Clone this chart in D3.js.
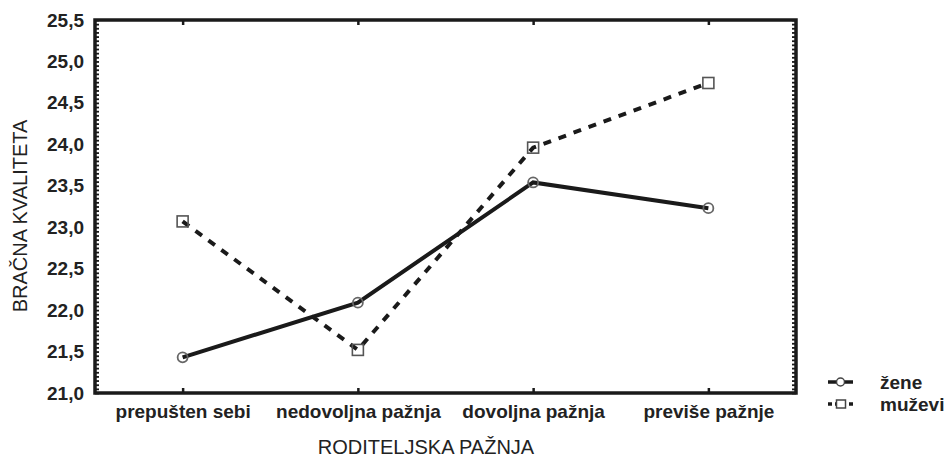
<!DOCTYPE html>
<html>
<head>
<meta charset="utf-8">
<script src="https://cdn.jsdelivr.net/npm/d3@7"></script>
<style>
  body { margin: 0; background: #fff; }
  text { font-family: "Liberation Sans", Arial, sans-serif; fill: #222; }
</style>
</head>
<body>
<script>
//Data
var categories = ["prepušten sebi", "nedovoljna pažnja", "dovoljna pažnja", "previše pažnje"];
var zene = [21.43, 22.09, 23.54, 23.23];
var muzevi = [23.07, 21.52, 23.96, 24.74];
var yTicks = [21.0, 21.5, 22.0, 22.5, 23.0, 23.5, 24.0, 24.5, 25.0, 25.5];
var seriesNames = ["žene", "muževi"];

//Width and height
var w = 951;
var h = 457;
var plotL = 95, plotR = 796, plotT = 20, plotB = 393;

var svg = d3.select("body")
            .append("svg")
            .attr("width", w)
            .attr("height", h);

//Scales
var x = d3.scalePoint()
            .domain(categories)
            .range([plotL, plotR])
            .padding(0.5);

var y = d3.scaleLinear()
            .domain([21, 25.5])
            .range([plotB, plotT]);

var fmt = function(d) { return d3.format(".1f")(d).replace(".", ","); };

//Minor ticks every 0.05 on left and right, pointing inward
var minor = d3.range(21, 25.5001, 0.05);

svg.append("g")
    .attr("transform", "translate(" + plotL + ",0)")
    .call(d3.axisRight(y).tickValues(minor).tickSize(4).tickFormat(""))
    .call(function(g) { g.select(".domain").remove(); })
    .selectAll("line").attr("stroke", "#1a1a1a").attr("stroke-width", 1.8);

svg.append("g")
    .attr("transform", "translate(" + plotR + ",0)")
    .call(d3.axisLeft(y).tickValues(minor).tickSize(4).tickFormat(""))
    .call(function(g) { g.select(".domain").remove(); })
    .selectAll("line").attr("stroke", "#1a1a1a").attr("stroke-width", 1.8);

//Category ticks on top and bottom, inward
svg.append("g")
    .attr("transform", "translate(0," + plotB + ")")
    .call(d3.axisTop(x).tickSize(5).tickFormat(""))
    .call(function(g) { g.select(".domain").remove(); })
    .selectAll("line").attr("stroke", "#1a1a1a").attr("stroke-width", 2.5);

svg.append("g")
    .attr("transform", "translate(0," + plotT + ")")
    .call(d3.axisBottom(x).tickSize(5).tickFormat(""))
    .call(function(g) { g.select(".domain").remove(); })
    .selectAll("line").attr("stroke", "#1a1a1a").attr("stroke-width", 2.5);

//Y tick labels
svg.append("g")
    .attr("transform", "translate(" + plotL + ",0)")
    .call(d3.axisLeft(y).tickValues(yTicks).tickSize(0).tickPadding(11).tickFormat(fmt))
    .call(function(g) { g.select(".domain").remove(); })
    .selectAll("text")
    .attr("font-size", 19)
    .attr("font-weight", "bold")
    .style("font-family", "'Liberation Sans', Arial, sans-serif")
    .attr("fill", "#222");

//X tick labels
svg.append("g")
    .attr("transform", "translate(0," + plotB + ")")
    .call(d3.axisBottom(x).tickSize(0).tickPadding(12))
    .call(function(g) { g.select(".domain").remove(); })
    .selectAll("text")
    .attr("font-size", 19)
    .attr("font-weight", "bold")
    .style("font-family", "'Liberation Sans', Arial, sans-serif")
    .attr("fill", "#222");

//Frame
svg.append("rect")
    .attr("x", plotL)
    .attr("y", plotT)
    .attr("width", plotR - plotL)
    .attr("height", plotB - plotT)
    .attr("fill", "none")
    .attr("stroke", "#1a1a1a")
    .attr("stroke-width", 3.5);

//Axis titles
svg.append("text")
    .attr("x", 426)
    .attr("y", 454)
    .attr("text-anchor", "middle")
    .attr("font-size", 20)
    .text("RODITELJSKA PAŽNJA");

svg.append("text")
    .attr("transform", "translate(27,216) rotate(-90)")
    .attr("text-anchor", "middle")
    .attr("font-size", 20)
    .text("BRAČNA KVALITETA");

//Lines
var line = d3.line()
    .x(function(d, i) { return x(categories[i]); })
    .y(function(d) { return y(d); });

svg.append("path")
    .datum(muzevi)
    .attr("d", line)
    .attr("fill", "none")
    .attr("stroke", "#1a1a1a")
    .attr("stroke-width", 4)
    .attr("stroke-dasharray", "8,8");

svg.append("path")
    .datum(zene)
    .attr("d", line)
    .attr("fill", "none")
    .attr("stroke", "#1a1a1a")
    .attr("stroke-width", 4);

//Markers
svg.selectAll("rect.m")
    .data(muzevi)
    .enter()
    .append("rect")
    .attr("class", "m")
    .attr("x", function(d, i) { return x(categories[i]) - 5.5; })
    .attr("y", function(d) { return y(d) - 5.5; })
    .attr("width", 11)
    .attr("height", 11)
    .attr("fill", "none")
    .attr("stroke", "#555")
    .attr("stroke-width", 1.6);

svg.selectAll("circle.z")
    .data(zene)
    .enter()
    .append("circle")
    .attr("class", "z")
    .attr("cx", function(d, i) { return x(categories[i]); })
    .attr("cy", function(d) { return y(d); })
    .attr("r", 5)
    .attr("fill", "none")
    .attr("stroke", "#666")
    .attr("stroke-width", 1.8);

//Legend
var legend = svg.append("g")
    .attr("transform", "translate(828,382)");

legend.append("line")
    .attr("x1", 0).attr("x2", 25).attr("y1", 0).attr("y2", 0)
    .attr("stroke", "#1a1a1a").attr("stroke-width", 3.5);
legend.append("circle")
    .attr("cx", 12.5).attr("cy", 0).attr("r", 4)
    .attr("fill", "#fff").attr("stroke", "#444").attr("stroke-width", 1.5);
legend.append("line")
    .attr("x1", 0).attr("x2", 26).attr("y1", 22).attr("y2", 22)
    .attr("stroke", "#1a1a1a").attr("stroke-width", 3.5)
    .attr("stroke-dasharray", "4,3");
legend.append("rect")
    .attr("x", 8.5).attr("y", 18).attr("width", 9).attr("height", 8)
    .attr("fill", "#fff").attr("stroke", "#444").attr("stroke-width", 1.5);

legend.selectAll("text")
    .data(seriesNames)
    .enter()
    .append("text")
    .attr("x", 52)
    .attr("y", function(d, i) { return i * 22 + 6.5; })
    .attr("font-size", 19)
    .attr("font-weight", "bold")
    .text(function(d) { return d; });
</script>
</body>
</html>
